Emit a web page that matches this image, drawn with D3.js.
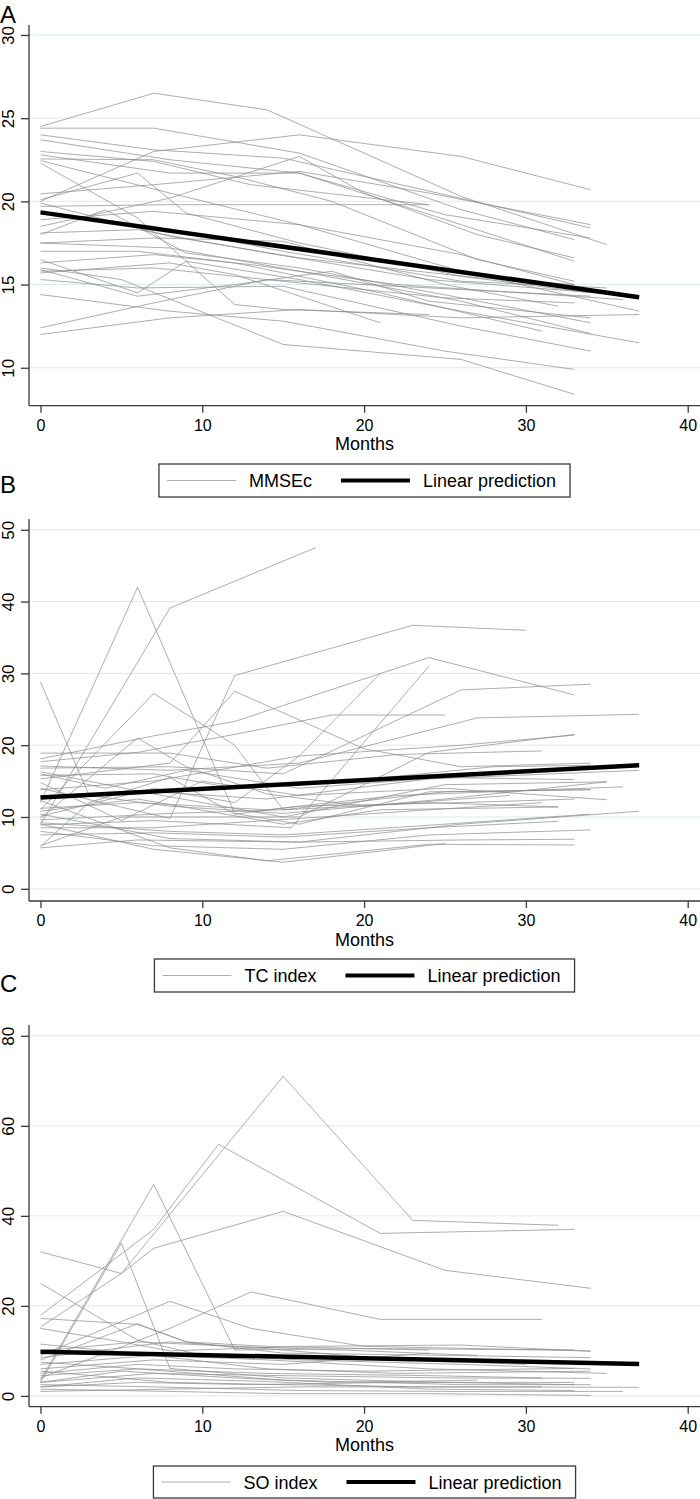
<!DOCTYPE html>
<meta charset="utf-8">
<title>MMSEc, TC index and SO index over months</title>
<style>
  body { margin: 0; background: #fff; }
  svg { display: block; font-family: "Liberation Sans", Arial, sans-serif; }
  .grid line { stroke: #dfeaec; stroke-width: 1; }
  .axis-line { stroke: #3a3a3a; stroke-width: 1.3; fill: none; }
  .tick line { stroke: #3a3a3a; stroke-width: 1.3; }
  .subject { fill: none; stroke: #8a8a8a; stroke-width: 0.7; }
  .pred { fill: none; stroke: #000; stroke-width: 4.5; }
  .legend-box { fill: #fff; stroke: #3a3a3a; stroke-width: 1.3; }
</style>
<body>
<script src="https://d3js.org/d3.v7.min.js"></script>
<script>
  // ---- data: each subject is a list of [month, value] ----
  var monthTicks = [0, 10, 20, 30, 40];

  var mmseTicks = [10, 15, 20, 25, 30];
  var mmsePred = [[0, 19.34], [37, 14.24]];
  var mmseSubjects = [
    [[0,24.5],[7,26.5],[14,25.5],[26,20.3],[35,17.4]],
    [[0,24.4],[7,24.4],[16,22.9],[26,19.5],[33,17.7]],
    [[0,20.0],[7,23.0],[16,24.0],[26,22.7],[34,20.7]],
    [[0,24.0],[7,23.1],[15,22.6],[25,20.4],[34,18.4]],
    [[0,23.7],[8,22.5],[16,21.7],[26,18.6],[33,16.4]],
    [[0,23.0],[7,22.4],[13,21.0],[24,19.8]],
    [[0,22.8],[8,21.7],[16,21.7],[25,19.2],[34,17.8]],
    [[0,22.55],[7,22.5],[12,21.5],[18,20.0],[27,16.5],[33,15.2]],
    [[0,22.45],[8,20.5],[16,18.6],[26,15.8],[37,13.4]],
    [[0,22.3],[6,19.0],[12,13.8],[15,13.5],[24,13.2]],
    [[0,20.45],[7,21.0],[16,21.8],[24,20.5],[34,18.6]],
    [[0,20.1],[6,21.7],[9,19.3],[16,17.5],[26,15.5],[34,14.5]],
    [[0,19.7],[8,19.8],[16,19.8],[24,19.8]],
    [[0,18.9],[7,19.4],[16,18.6],[26,16.8],[33,15.0]],
    [[0,18.5],[8,20.2],[16,22.7],[20,20.5],[27,18.0],[33,16.6]],
    [[0,18.1],[6,18.3],[14,16.9],[24,15.3],[37,14.3]],
    [[0,18.0],[4,19.5],[9,16.9],[16,16.0],[26,14.2],[34,12.7]],
    [[0,17.5],[7,17.8],[15,17.6],[25,15.0],[32,13.7]],
    [[0,17.5],[8,17.2],[16,15.8],[26,14.0],[34,12.05]],
    [[0,17.0],[6,17.0],[12,16.3],[21,14.5],[31,12.2]],
    [[0,16.5],[6,14.5],[9,16.4],[16,15.3],[26,13.4],[37,11.5]],
    [[0,16.3],[7,16.8],[13,16.2],[22,15.0],[36,14.1]],
    [[0,15.9],[6,14.3],[12,15.0],[18,15.8],[24,14.0],[34,13.0]],
    [[0,15.8],[7,16.0],[16,15.1],[25,14.2],[33,13.9]],
    [[0,15.7],[8,16.3],[12,15.6],[21,12.7]],
    [[0,15.3],[6,14.8],[15,14.9],[26,12.5],[34,11.0]],
    [[0,14.4],[8,13.4],[15,12.8],[25,11.0],[33,9.9]],
    [[0,12.4],[7,13.9],[14,15.3],[22,14.9],[34,14.3]],
    [[0,12.0],[8,13.0],[16,13.5],[26,13.0],[37,13.2]],
    [[0,19.4],[7,18.5],[15,17.0],[26,15.2],[35,14.8]],
    [[0,16.0],[5,15.3],[15,11.4],[26,10.5],[33,8.4]],
    [[0,19.9],[8,17.9],[16,16.6],[27,15.4],[33,15.0]]
  ];

  var tcTicks = [0, 10, 20, 30, 40, 50];
  var tcPred = [[0, 12.7], [37, 17.2]];
  var tcSubjects = [
    [[0,28.8],[3,13.0],[8,11.5],[15,10.5],[25,12.5],[35,14.9]],
    [[0,12.0],[6,42.0],[12,10.5],[16,9.0],[24,13.5],[34,13.8]],
    [[0,9.0],[4,24.0],[8,39.1],[17,47.5]],
    [[0,11.0],[7,27.2],[12,20.0],[15,11.0],[24,12.0],[32,11.4]],
    [[0,14.0],[8,9.8],[12,29.7],[23,36.7],[30,36.0]],
    [[0,15.3],[8,17.5],[12,27.5],[20,19.5],[26,17.0],[34,17.5]],
    [[0,18.1],[7,21.3],[12,23.3],[24,32.2],[33,27.0]],
    [[0,10.1],[7,14.0],[12,12.0],[16,18.5],[21,30.0]],
    [[0,16.8],[8,17.0],[15,16.0],[26,27.7],[34,28.5]],
    [[0,8.9],[7,9.5],[15.5,8.5],[24,31.0]],
    [[0,17.7],[6,19.0],[12,21.5],[18,24.2],[25,24.2]],
    [[0,17.1],[8,16.5],[16,17.5],[27,23.8],[37,24.3]],
    [[0,13.8],[7,15.0],[16,18.5],[26,20.0],[33,21.4]],
    [[0,18.9],[8,18.9],[14,16.8],[22,18.7],[31,19.2]],
    [[0,15.8],[7,16.0],[12,14.0],[19,15.0],[28,17.0],[34,17.2]],
    [[0,12.9],[7,13.5],[14,12.5],[24,15.3],[37,16.5]],
    [[0,11.2],[6,12.0],[14,11.0],[22,13.0],[36,14.2]],
    [[0,16.3],[7,13.2],[15,10.0],[25,14.5],[35,14.9]],
    [[0,9.6],[8,10.5],[15,11.0],[25,13.5],[34,13.8]],
    [[0,10.8],[6,12.5],[15,9.0],[21,11.0],[32,11.4]],
    [[0,8.5],[7,8.5],[14,9.5],[24,11.0],[31,12.0]],
    [[0,9.2],[8,8.0],[15,7.5],[25,9.0],[34,10.4]],
    [[0,10.4],[8,7.0],[16,6.5],[26,9.0],[37,10.8]],
    [[0,7.5],[7,7.8],[15,7.2],[24,8.5],[32,9.4]],
    [[0,8.0],[7,6.0],[15,5.5],[24,7.5],[34,8.2]],
    [[0,9.0],[7,5.5],[15,3.7],[25,6.3]],
    [[0,12.3],[8,5.7],[14,3.9],[24,6.2],[33,6.1]],
    [[0,5.7],[6,6.8],[16,6.5],[26,6.8],[33,6.9]],
    [[0,5.9],[3,12.0],[8,15.5],[12,10.4],[16,11.5],[26,12.0],[33,12.5]],
    [[0,14.8],[5,9.5],[10,15.0],[16,13.0],[25,14.0],[35,12.4]],
    [[0,16.0],[4,14.0],[9,16.5],[16,14.0],[25,15.5],[33,15.2]],
    [[0,9.8],[6,21.0],[9,17.0],[14,13.2],[20,11.5],[29,13.0]],
    [[0,6.0],[5,10.0],[9,10.0],[16,10.0],[24,19.0],[33,21.5]]
  ];

  var soTicks = [0, 20, 40, 60, 80];
  var soPred = [[0, 9.8], [37, 7.1]];
  var soSubjects = [
    [[0,15.3],[5,27.2],[15,71.0],[23,39.0],[32,37.9]],
    [[0,17.9],[7,37.0],[11,55.9],[21,36.1],[33,37.0]],
    [[0,3.5],[7,47.0],[12,10.2],[20,10.5],[33,10.2]],
    [[0,3.0],[5,34.0],[8,6.1],[15,4.0],[25,3.0],[33,2.5]],
    [[0,32.0],[5,27.2],[7,32.8],[15,41.0],[25,27.9],[34,23.9]],
    [[0,4.0],[8,15.0],[13,23.1],[21,17.0],[31,17.0]],
    [[0,9.0],[8,21.0],[13,15.0],[20,11.0],[34,10.0]],
    [[0,25.0],[6,12.4],[10,9.0],[16,8.0],[26,7.0],[34,6.0]],
    [[0,17.2],[6,15.9],[9,12.0],[15,9.5],[25,9.0],[34,8.5]],
    [[0,15.0],[5,12.0],[8,10.0],[16,11.0],[26,11.3],[34,9.9]],
    [[0,8.0],[6,16.0],[9,12.0],[14,11.0],[24,10.2]],
    [[0,5.0],[6,7.0],[12,6.0],[20,5.5],[33,6.1]],
    [[0,7.0],[7,9.0],[14,8.0],[24,6.0],[35,5.0]],
    [[0,3.0],[7,5.0],[15,4.5],[25,4.0],[34,3.9]],
    [[0,2.0],[6,3.0],[13,2.5],[22,3.0],[33,3.0]],
    [[0,1.0],[8,1.5],[16,2.0],[26,2.0],[37,1.9]],
    [[0,2.5],[7,2.0],[16,1.2],[25,1.0],[36,1.0]],
    [[0,1.5],[8,1.0],[15,0.5],[24,0.5],[34,0.1]],
    [[0,6.0],[7,8.0],[15,7.0],[24,9.5]],
    [[0,10.0],[6,12.0],[12,11.0],[20,10.0],[27,9.0]],
    [[0,8.5],[8,12.0],[14,10.5],[22,8.0],[30,7.0]],
    [[0,4.5],[6,6.0],[14,5.0],[24,4.5],[31,4.0]],
    [[0,11.5],[7,9.0],[14,6.0],[22,5.0],[34,5.5]],
    [[0,3.0],[5,5.5],[12,4.0],[18,3.0],[27,3.5]],
    [[0,5.5],[8,3.0],[15,2.5],[24,2.0],[31,2.0]],
    [[0,7.5],[6,6.0],[15,3.5],[26,2.5],[34,2.5]],
    [[0,2.0],[6,4.0],[14,3.2],[24,1.5],[33,1.2]]
  ];

  var seriesLabels = ["MMSEc", "TC index", "SO index"];
  var predLabel = "Linear prediction";
  var panelLetters = ["A", "B", "C"];

  // ---- layout ----
  var width = 700, height = 1499;
  var left = 29, right = 700;

  var panels = [
    { subjects: mmseSubjects, pred: mmsePred, ticks: mmseTicks, domain: [7.72, 30.6],
      top: 25, bottom: 405.7, letterY: 23, legendTop: 464, legendH: 33 },
    { subjects: tcSubjects, pred: tcPred, ticks: tcTicks, domain: [-1.7, 51.5],
      top: 519, bottom: 901, letterY: 493, legendTop: 959, legendH: 33 },
    { subjects: soSubjects, pred: soPred, ticks: soTicks, domain: [-2.4, 82.4],
      top: 1025, bottom: 1406.7, letterY: 992, legendTop: 1466, legendH: 32 }
  ];

  var svg = d3.select("body").append("svg")
    .attr("width", width)
    .attr("height", height);

  var x = d3.scaleLinear().domain([-0.71, 40.76]).range([left, right]);

  panels.forEach(function(p, i) {
    var y = d3.scaleLinear().domain(p.domain).range([p.bottom, p.top]);
    var g = svg.append("g");

    // gridlines
    g.append("g").attr("class", "grid")
      .selectAll("line").data(p.ticks).enter().append("line")
      .attr("x1", left).attr("x2", right)
      .attr("y1", d => y(d)).attr("y2", d => y(d));

    var line = d3.line().x(d => x(d[0])).y(d => y(d[1]));

    g.selectAll(".subject").data(p.subjects).enter().append("path")
      .attr("class", "subject")
      .attr("d", line);

    g.append("path").attr("class", "pred").attr("d", line(p.pred));

    // y axis
    var yAxis = d3.axisLeft(y).tickValues(p.ticks).tickSize(8).tickPadding(0).tickSizeOuter(0);
    var ya = g.append("g").attr("transform", "translate(" + left + ",0)").call(yAxis);
    ya.select(".domain").remove();
    ya.selectAll(".tick text").remove();
    ya.selectAll(".tick").append("text")
      .attr("transform", "translate(-15,0) rotate(-90)")
      .attr("text-anchor", "middle")
      .attr("fill", "#000")
      .style("font-size", "17px")
      .text(d => d);
    ya.attr("font-family", null);
    g.append("line").attr("class", "axis-line")
      .attr("x1", left).attr("x2", left).attr("y1", p.top).attr("y2", p.bottom);

    // x axis
    var xAxis = d3.axisBottom(x).tickValues(monthTicks).tickSize(7).tickPadding(7).tickSizeOuter(0);
    var xa = g.append("g").attr("transform", "translate(0," + p.bottom + ")").call(xAxis);
    xa.select(".domain").remove();
    xa.attr("font-family", null);
    xa.selectAll(".tick text").attr("fill", "#000").style("font-size", "16px");
    g.append("line").attr("class", "axis-line")
      .attr("x1", left).attr("x2", right).attr("y1", p.bottom).attr("y2", p.bottom);

    g.append("text")
      .attr("x", (left + right) / 2).attr("y", p.bottom + 44.5)
      .attr("text-anchor", "middle")
      .style("font-size", "18px")
      .text("Months");

    // panel letter
    svg.append("text")
      .attr("x", 0).attr("y", p.letterY)
      .style("font-size", "24px")
      .text(panelLetters[i]);

    // legend
    var lg = svg.append("g");
    var box = lg.append("rect").attr("class", "legend-box")
      .attr("y", p.legendTop).attr("height", p.legendH);
    var cy = p.legendTop + p.legendH / 2;
    var t1 = lg.append("text").attr("y", cy + 6.5).style("font-size", "18px").text(seriesLabels[i]);
    var t2 = lg.append("text").attr("y", cy + 6.5).style("font-size", "18px").text(predLabel);
    var w1 = t1.node().getComputedTextLength();
    var w2 = t2.node().getComputedTextLength();
    var pad = 8, sample = 69, gapIn = 13, gapOut = 29, padR = 14;
    var total = pad + sample + gapIn + w1 + gapOut + sample + gapIn + w2 + padR;
    var x0 = (left + right) / 2 - total / 2;
    box.attr("x", x0).attr("width", total);
    lg.append("line").attr("class", "subject")
      .attr("x1", x0 + pad).attr("x2", x0 + pad + sample).attr("y1", cy).attr("y2", cy);
    t1.attr("x", x0 + pad + sample + gapIn);
    var x2 = x0 + pad + sample + gapIn + w1 + gapOut;
    lg.append("line").attr("class", "pred").style("stroke-width", 4)
      .attr("x1", x2).attr("x2", x2 + sample).attr("y1", cy).attr("y2", cy);
    t2.attr("x", x2 + sample + gapIn);
  });
</script>
</body>
